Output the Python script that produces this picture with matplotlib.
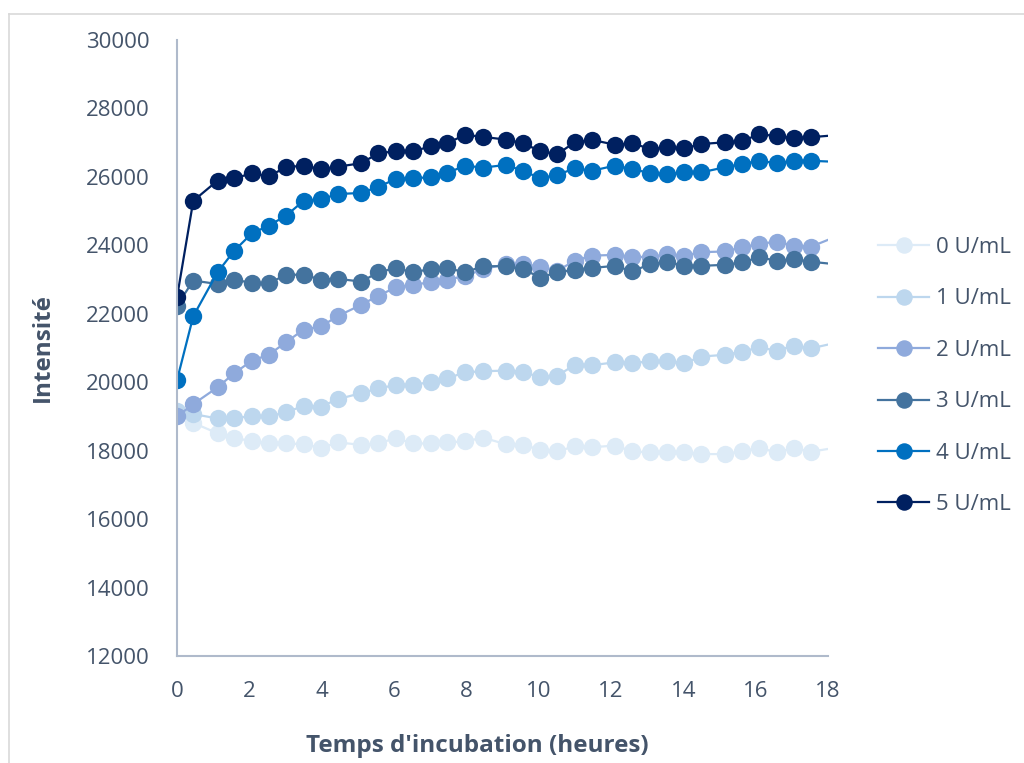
import matplotlib
matplotlib.use('Agg')
import matplotlib.pyplot as plt
from matplotlib.lines import Line2D

# ------------------------------------------------------------
# data
# (the last value of each series is the line end at 18 h, no marker)
# ------------------------------------------------------------
hours = [0, 0.45, 1.12, 1.58, 2.07, 2.53, 3.02, 3.5, 3.98, 4.46, 5.09, 5.57,
         6.05, 6.53, 7.01, 7.47, 7.96, 8.46, 9.09, 9.56, 10.04, 10.52, 11.0,
         11.48, 12.11, 12.59, 13.08, 13.56, 14.03, 14.49, 15.14, 15.62, 16.1,
         16.58, 17.06, 17.53, 18.0]

u0 = [19050, 18810, 18510, 18360, 18290, 18210, 18210, 18190, 18080, 18240,
      18170, 18210, 18370, 18210, 18210, 18240, 18270, 18380, 18190, 18170,
      18030, 17980, 18130, 18100, 18150, 17980, 17950, 17950, 17950, 17900,
      17900, 17980, 18080, 17950, 18080, 17970, 18050]
u1 = [19150, 19070, 18940, 18940, 19020, 19000, 19120, 19310, 19290, 19510,
      19680, 19820, 19920, 19920, 20010, 20110, 20290, 20320, 20340, 20310,
      20140, 20190, 20510, 20500, 20580, 20560, 20610, 20610, 20550, 20750,
      20800, 20890, 21020, 20920, 21070, 20990, 21100]
u2 = [19000, 19360, 19850, 20260, 20630, 20800, 21170, 21540, 21630, 21940,
      22260, 22530, 22770, 22850, 22920, 23000, 23100, 23300, 23450, 23450,
      23380, 23260, 23550, 23700, 23720, 23670, 23650, 23750, 23700, 23800,
      23820, 23940, 24040, 24110, 23990, 23960, 24160]
u3 = [22240, 22970, 22870, 23000, 22900, 22890, 23140, 23140, 23000, 23020,
      22940, 23210, 23340, 23210, 23310, 23340, 23210, 23390, 23390, 23310,
      23060, 23210, 23290, 23340, 23400, 23240, 23450, 23520, 23400, 23400,
      23430, 23500, 23650, 23550, 23600, 23520, 23470]
u4 = [20060, 21930, 23210, 23840, 24350, 24570, 24870, 25300, 25350, 25500,
      25530, 25710, 25940, 25960, 25990, 26110, 26330, 26270, 26350, 26180,
      25960, 26060, 26250, 26180, 26330, 26230, 26110, 26080, 26130, 26130,
      26280, 26380, 26470, 26400, 26470, 26470, 26450]
u5 = [22480, 25300, 25890, 25960, 26100, 26020, 26280, 26330, 26230, 26300,
      26400, 26690, 26750, 26750, 26890, 26980, 27230, 27170, 27090, 26990,
      26750, 26670, 27010, 27080, 26940, 26980, 26820, 26860, 26830, 26960,
      27010, 27040, 27250, 27190, 27130, 27160, 27200]

series = [u0, u1, u2, u3, u4, u5]
labels = ['0 U/mL', '1 U/mL', '2 U/mL', '3 U/mL', '4 U/mL', '5 U/mL']
colors = ['#DDEBF7', '#BDD7EE', '#8FAADC', '#44739E', '#0070C0', '#002060']

text_col = '#44546A'
spine_col = '#AFBACB'

plt.rcParams['font.family'] = ['Open Sans', 'DejaVu Sans']

fig = plt.figure(figsize=(10.24, 7.63), dpi=100)
ax = fig.add_axes([177 / 1024, 1 - 656 / 763, (828 - 177) / 1024, (656 - 40) / 763])

n_mark = len(hours) - 1
for vals, lab, col in zip(series, labels, colors):
    ax.plot(hours, vals, color=col, lw=1.6, marker='o', markersize=12.5,
            markeredgewidth=0, markevery=list(range(n_mark)), label=lab)

ax.set_xlim(0, 18)
ax.set_ylim(12000, 30000)
ax.set_xticks(range(0, 19, 2))
ax.set_yticks(range(12000, 30001, 2000))
ax.tick_params(length=0, labelsize=16, labelcolor=text_col)
ax.tick_params(axis='x', pad=18)
ax.tick_params(axis='y', pad=20)

for s in ['top', 'right']:
    ax.spines[s].set_visible(False)
for s in ['left', 'bottom']:
    ax.spines[s].set_color(spine_col)
    ax.spines[s].set_linewidth(1.5)

fig.text(43 / 1024, 1 - 348 / 763, 'Intensité', rotation=90, ha='center',
         va='center', fontsize=17.5, fontweight='bold', color=text_col)
fig.text(477 / 1024, 1 - 746 / 763, "Temps d'incubation (heures)", ha='center',
         va='center', fontsize=17.5, fontweight='bold', color=text_col)

leg = fig.legend(loc='upper left', bbox_to_anchor=(858 / 1024, 1 - 217 / 763),
                 frameon=False, fontsize=16, labelcolor=text_col,
                 handlelength=2.3, handletextpad=0.3, labelspacing=1.37,
                 markerscale=0.95)

# light chart-area frame (left and top edges visible)
fig.add_artist(Line2D([9 / 1024, 9 / 1024], [0, 1 - 14 / 763],
                      transform=fig.transFigure, color='#D9D9D9', lw=1.2))
fig.add_artist(Line2D([9 / 1024, 1], [1 - 14 / 763, 1 - 14 / 763],
                      transform=fig.transFigure, color='#D9D9D9', lw=1.2))

fig.savefig('out.png', dpi=100, facecolor='white')
